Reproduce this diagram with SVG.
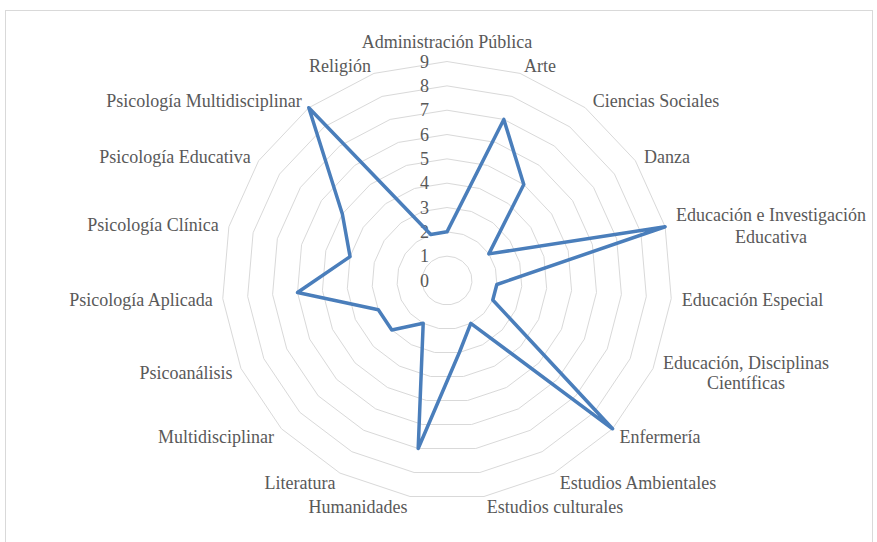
<svg xmlns="http://www.w3.org/2000/svg" xmlns:xlink="http://www.w3.org/1999/xlink" width="877" height="542" viewBox="0 0 877 542">
<style>
.lbl{font-family:"Liberation Serif","Times New Roman",serif;font-size:18px;fill:#595959;text-anchor:middle}
.val{font-family:"Liberation Serif","Times New Roman",serif;font-size:18px;fill:#595959;text-anchor:end}
.ring{fill:none;stroke:#d9d9d9;stroke-width:1;vector-effect:non-scaling-stroke}
.series{fill:none;stroke:#4a7ebb;stroke-width:3.5;stroke-linejoin:round}
</style>
<defs>
<polygon id="unit" class="ring" points="0,-1 0.3247,-0.9458 0.6142,-0.7891 0.8372,-0.5469 0.9694,-0.2455 0.9966,0.0826 0.9158,0.4017 0.7357,0.6773 0.4759,0.8795 0.1646,0.9864 -0.1646,0.9864 -0.4759,0.8795 -0.7357,0.6773 -0.9158,0.4017 -0.9966,0.0826 -0.9694,-0.2455 -0.8372,-0.5469 -0.6142,-0.7891 -0.3247,-0.9458"/>
</defs>
<rect x="5.5" y="10.5" width="867" height="540" fill="#ffffff" stroke="#d9d9d9" stroke-width="1"/>
<g id="grid">
<use xlink:href="#unit" transform="translate(447,280.5) scale(25,24.33)"/>
<use xlink:href="#unit" transform="translate(447,280.5) scale(50,48.66)"/>
<use xlink:href="#unit" transform="translate(447,280.5) scale(75,72.99)"/>
<use xlink:href="#unit" transform="translate(447,280.5) scale(100,97.32)"/>
<use xlink:href="#unit" transform="translate(447,280.5) scale(125,121.65)"/>
<use xlink:href="#unit" transform="translate(447,280.5) scale(150,145.98)"/>
<use xlink:href="#unit" transform="translate(447,280.5) scale(175,170.31)"/>
<use xlink:href="#unit" transform="translate(447,280.5) scale(200,194.64)"/>
<use xlink:href="#unit" transform="translate(447,280.5) scale(225,218.97)"/>
</g>
<g id="values">
<text class="val" x="429" y="286.5">0</text>
<text class="val" x="429" y="262.2">1</text>
<text class="val" x="429" y="237.8">2</text>
<text class="val" x="429" y="213.5">3</text>
<text class="val" x="429" y="189.2">4</text>
<text class="val" x="429" y="164.8">5</text>
<text class="val" x="429" y="140.5">6</text>
<text class="val" x="429" y="116.2">7</text>
<text class="val" x="429" y="91.9">8</text>
<text class="val" x="429" y="67.5">9</text>
</g>
<g id="series">
<polygon class="series" points="447,231.84 503.82,119.42 523.78,184.5 488.86,253.89 665.12,226.74 496.83,284.52 492.79,300.05 612.54,428.8 470.8,323.29 459.35,352.49 418.19,448.49 423.2,323.29 391.82,329.93 378.32,309.82 297.51,292.55 350.06,256.61 342.35,213.96 308.8,107.7 430.76,234.48"/>
</g>
<g id="categories">
<g id="c0"><text class="lbl" x="447" y="48">Administración Pública</text></g>
<g id="c1"><text class="lbl" x="540" y="72">Arte</text></g>
<g id="c2"><text class="lbl" x="656" y="107">Ciencias Sociales</text></g>
<g id="c3"><text class="lbl" x="667" y="163">Danza</text></g>
<g id="c4"><text class="lbl" x="771" y="221">Educación e Investigación</text><text class="lbl" x="771" y="243">Educativa</text></g>
<g id="c5"><text class="lbl" x="752.5" y="306">Educación Especial</text></g>
<g id="c6"><text class="lbl" x="746" y="369">Educación, Disciplinas</text><text class="lbl" x="746" y="389">Científicas</text></g>
<g id="c7"><text class="lbl" x="660" y="443">Enfermería</text></g>
<g id="c8"><text class="lbl" x="638" y="489">Estudios Ambientales</text></g>
<g id="c9"><text class="lbl" x="555" y="513">Estudios culturales</text></g>
<g id="c10"><text class="lbl" x="358" y="513">Humanidades</text></g>
<g id="c11"><text class="lbl" x="300" y="489">Literatura</text></g>
<g id="c12"><text class="lbl" x="216" y="443">Multidisciplinar</text></g>
<g id="c13"><text class="lbl" x="186" y="379">Psicoanálisis</text></g>
<g id="c14"><text class="lbl" x="141" y="306">Psicología Aplicada</text></g>
<g id="c15"><text class="lbl" x="153" y="231">Psicología Clínica</text></g>
<g id="c16"><text class="lbl" x="175" y="163">Psicología Educativa</text></g>
<g id="c17"><text class="lbl" x="204" y="107">Psicología Multidisciplinar</text></g>
<g id="c18"><text class="lbl" x="340" y="72">Religión</text></g>
</g>
</svg>
